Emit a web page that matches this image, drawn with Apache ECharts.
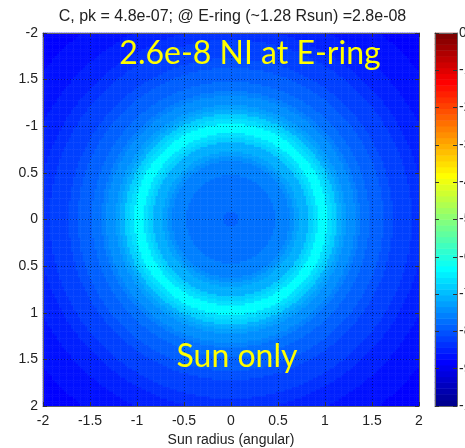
<!DOCTYPE html>
<html lang="en">
<head>
<meta charset="UTF-8">
<title>C, pk = 4.8e-07; @ E-ring</title>
<script src="https://cdn.jsdelivr.net/npm/echarts@6/dist/echarts.min.js"></script>
<style>
  html, body { margin: 0; padding: 0; background: #fff; }
  #chart { width: 465px; height: 448px; }
</style>
</head>
<body>
<div id="chart"></div>
<script>
// radial profile of the image, log10 units (same scale as the colorbar)
var profileRadius = [0, 0.05, 0.1, 0.15, 0.2, 0.25, 0.3, 0.35, 0.4, 0.45,
  0.5, 0.55, 0.6, 0.65, 0.7, 0.75, 0.8, 0.85, 0.9, 0.95,
  1.0, 1.05, 1.1, 1.15, 1.2, 1.25, 1.3, 1.35, 1.4, 1.45,
  1.5, 1.55, 1.6, 1.65, 1.7, 1.75, 1.8, 1.85, 1.9, 1.95,
  2.0, 2.1, 2.2, 2.3, 2.4, 2.5, 2.6, 2.7, 2.8, 2.9];
var profileLog = [-7.86, -7.84, -7.78, -7.77, -7.76, -7.75, -7.74, -7.72, -7.7, -7.67,
  -7.63, -7.58, -7.51, -7.42, -7.3, -7.18, -7.04, -6.86, -6.6, -6.37,
  -6.36, -6.6, -6.87, -7.07, -7.23, -7.37, -7.49, -7.59, -7.68, -7.76,
  -7.83, -7.9, -7.96, -8.02, -8.08, -8.13, -8.18, -8.23, -8.28, -8.33,
  -8.38, -8.47, -8.55, -8.62, -8.68, -8.74, -8.78, -8.82, -8.85, -8.87];

var xTickLabels = ['-2', '-1.5', '-1', '-0.5', '0', '0.5', '1', '1.5', '2'];
var yTickLabels = ['-2', '1.5', '-1', '0.5', '0', '0.5', '1', '1.5', '2'];
var cbarTickLabels = ['-10', '-9', '-8', '-7', '-6', '-5', '-4', '-3', '-2', '-1', '0'];

var titleText = 'C, pk = 4.8e-07; @ E-ring (~1.28 Rsun) =2.8e-08';
var xName = 'Sun radius (angular)';
var noteTop = '2.6e-8 NI at E-ring';
var noteBottom = 'Sun only';

// MATLAB jet(64)
function jet(i) {
  var x = (i + 1) / 64;
  function c(d) { return Math.round(255 * Math.max(0, Math.min(1, 1.5 - Math.abs(4 * x - d)))); }
  return 'rgb(' + c(3) + ',' + c(2) + ',' + c(1) + ')';
}
var pieces = [];
for (var i = 0; i < 64; i++) {
  var p = { gte: -10 + i * 10 / 64, color: jet(i) };
  if (i < 63) p.lt = -10 + (i + 1) * 10 / 64; else p.lte = 0;
  pieces.push(p);
}

// cells over [-2, 2] x [-2, 2]
var step = 0.025, n = 160;
var cellPos = [];
for (var k = 0; k < n; k++) cellPos.push((-2 + (k + 0.5) * step).toFixed(4));

function lookup(r) {
  var best = 0;
  for (var j = 1; j < profileRadius.length; j++) {
    if (Math.abs(r - profileRadius[j]) < Math.abs(r - profileRadius[best])) best = j;
  }
  return profileLog[best];
}
var cells = [];
for (var a = 0; a < n; a++) {
  for (var b = 0; b < n; b++) {
    var r = Math.sqrt(cellPos[a] * cellPos[a] + cellPos[b] * cellPos[b]);
    cells.push([a, b, lookup(r)]);
  }
}
var cbarCats = [], cbarCells = [];
for (var q = 0; q < 64; q++) {
  cbarCats.push(q);
  cbarCells.push([0, q, -10 + (q + 0.5) * 10 / 64]);
}

var font = 'Liberation Sans, Arial, sans-serif';
var frame = '#666';
var tickStyle = { show: true, inside: true, length: 4, lineStyle: { color: '#333' } };
var lineStyle = { show: true, onZero: false, lineStyle: { color: frame } };

var chart = echarts.init(document.getElementById('chart'));
chart.setOption({
  animation: false,
  title: {
    text: titleText, left: 'center', top: 4,
    textStyle: { fontFamily: font, fontSize: 16, fontWeight: 'normal', color: '#222' }
  },
  grid: [
    { left: 43, top: 33, width: 376, height: 373, outerBoundsMode: 'none', containLabel: false },
    { left: 43, top: 33, width: 376, height: 373, outerBoundsMode: 'none', containLabel: false },
    { left: 435, top: 33, width: 22, height: 373, outerBoundsMode: 'none', containLabel: false },
    { left: 435, top: 33, width: 22, height: 373, outerBoundsMode: 'none', containLabel: false }
  ],
  xAxis: [
    { gridIndex: 0, type: 'category', data: cellPos, show: false },
    { gridIndex: 1, type: 'value', min: -2, max: 2, interval: 0.5, position: 'bottom', z: 5,
      name: xName, nameLocation: 'middle', nameGap: 27,
      nameTextStyle: { fontFamily: font, fontSize: 14, color: '#222' },
      axisLine: lineStyle,
      axisTick: tickStyle,
      axisLabel: { fontFamily: font, fontSize: 14, color: '#222', margin: 8,
        formatter: function (v) { return xTickLabels[Math.round((v + 2) / 0.5)]; } },
      splitLine: { show: true, lineStyle: { color: 'rgba(0,0,0,0.45)', type: [1, 2] } } },
    { gridIndex: 1, type: 'value', min: -2, max: 2, interval: 0.5, position: 'top', z: 5,
      axisLine: lineStyle,
      axisTick: tickStyle, axisLabel: { show: false }, splitLine: { show: false } },
    { gridIndex: 2, type: 'category', data: ['c'], show: false },
    { gridIndex: 3, type: 'value', min: 0, max: 1, position: 'bottom', z: 5,
      axisLine: lineStyle,
      axisTick: { show: false }, axisLabel: { show: false }, splitLine: { show: false } },
    { gridIndex: 3, type: 'value', min: 0, max: 1, position: 'top', z: 5,
      axisLine: lineStyle,
      axisTick: { show: false }, axisLabel: { show: false }, splitLine: { show: false } }
  ],
  yAxis: [
    { gridIndex: 0, type: 'category', data: cellPos, inverse: true, show: false },
    { gridIndex: 1, type: 'value', min: -2, max: 2, interval: 0.5, inverse: true, position: 'left', z: 5,
      axisLine: lineStyle,
      axisTick: tickStyle,
      axisLabel: { fontFamily: font, fontSize: 14, color: '#222', margin: 5,
        formatter: function (v) { return yTickLabels[Math.round((v + 2) / 0.5)]; } },
      splitLine: { show: true, lineStyle: { color: 'rgba(0,0,0,0.45)', type: [1, 2] } } },
    { gridIndex: 1, type: 'value', min: -2, max: 2, interval: 0.5, inverse: true, position: 'right', z: 5,
      axisLine: lineStyle,
      axisTick: tickStyle, axisLabel: { show: false }, splitLine: { show: false } },
    { gridIndex: 2, type: 'category', data: cbarCats, show: false },
    { gridIndex: 3, type: 'value', min: -10, max: 0, interval: 1, position: 'left', z: 5,
      axisLine: lineStyle,
      axisTick: tickStyle, axisLabel: { show: false }, splitLine: { show: false } },
    { gridIndex: 3, type: 'value', min: -10, max: 0, interval: 1, position: 'right', z: 5,
      axisLine: lineStyle,
      axisTick: tickStyle,
      axisLabel: { fontFamily: font, fontSize: 14, color: '#222', margin: 2,
        formatter: function (v) { return cbarTickLabels[Math.round(v + 10)]; } },
      splitLine: { show: false } }
  ],
  visualMap: {
    type: 'piecewise', show: false, dimension: 2, seriesIndex: [0, 1], pieces: pieces
  },
  series: [
    { type: 'heatmap', xAxisIndex: 0, yAxisIndex: 0, data: cells, progressive: 0,
      emphasis: { disabled: true } },
    { type: 'heatmap', xAxisIndex: 3, yAxisIndex: 3, data: cbarCells, progressive: 0,
      emphasis: { disabled: true } }
  ],
  graphic: [
    { type: 'text', x: 250, y: 54, z: 100,
      style: { text: noteTop, fill: '#ffff00', font: '32px Lato, sans-serif',
        textAlign: 'center', textVerticalAlign: 'middle' } },
    { type: 'text', x: 237, y: 357, z: 100,
      style: { text: noteBottom, fill: '#ffff00', font: '32px Lato, sans-serif',
        textAlign: 'center', textVerticalAlign: 'middle' } }
  ]
});
</script>
</body>
</html>
